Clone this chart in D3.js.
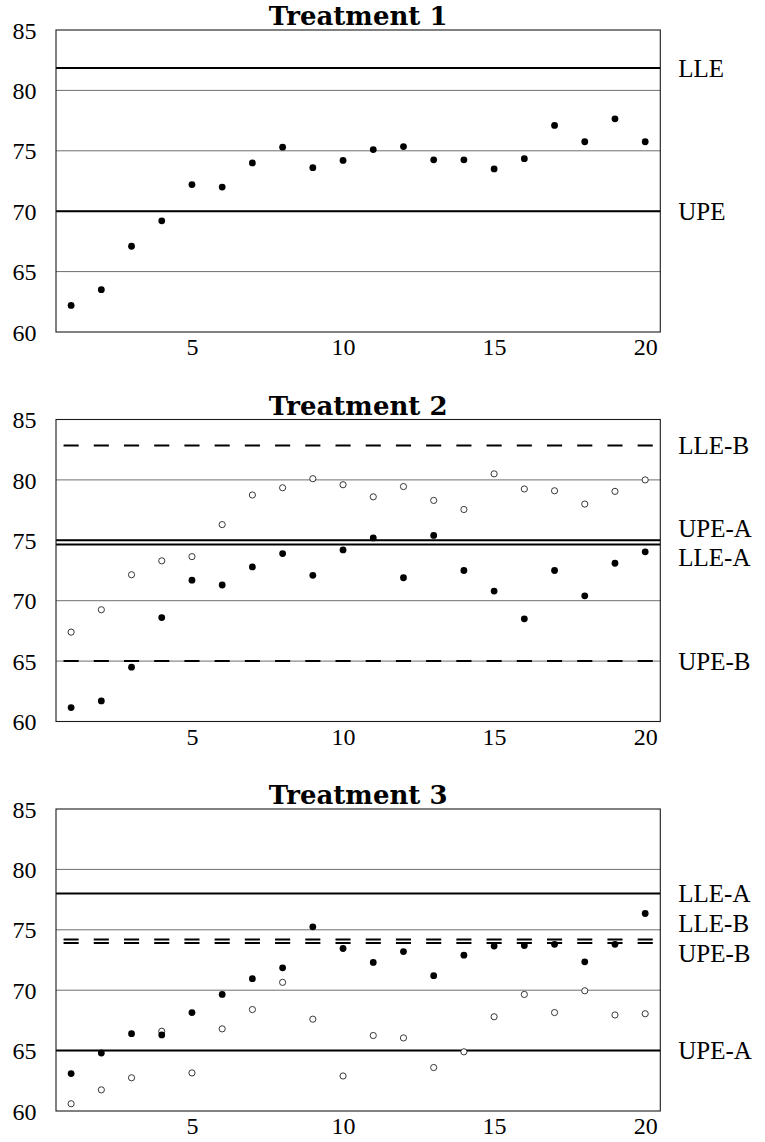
<!DOCTYPE html>
<html>
<head>
<meta charset="utf-8">
<script src="https://cdn.jsdelivr.net/npm/d3@7"></script>
<style>
  html, body { margin: 0; padding: 0; background: #fff; }
  svg { display: block; }
</style>
</head>
<body>
<script>
// ---------------- data ----------------
const xValues = [1,2,3,4,5,6,7,8,9,10,11,12,13,14,15,16,17,18,19,20];
const xTicks = [5, 10, 15, 20];
const yTicks = [60, 65, 70, 75, 80, 85];
const yDomain = [60, 85];

const panelTitles = ["Treatment 1", "Treatment 2", "Treatment 3"];

const t1Filled = [62.2,63.5,67.1,69.2,72.2,72.0,74.0,75.3,73.6,74.2,75.1,75.35,74.25,74.25,73.5,74.35,77.1,75.75,77.65,75.75];
const t1Open = [];

const t2Filled = [61.15,61.7,64.5,68.6,71.7,71.3,72.8,73.9,72.1,74.2,75.2,71.9,75.4,72.5,70.8,68.5,72.5,70.4,73.1,74.05];
const t2Open = [67.4,69.25,72.15,73.3,73.65,76.3,78.75,79.35,80.1,79.6,78.6,79.45,78.3,77.55,80.5,79.25,79.1,78.0,79.05,80.0];

const t3Filled = [63.1,64.8,66.4,66.3,68.15,69.65,70.95,71.85,75.25,73.45,72.3,73.2,71.2,72.9,73.65,73.7,73.8,72.35,73.8,76.35];
const t3Open = [60.6,61.75,62.75,66.6,63.15,66.8,68.4,70.65,67.6,62.9,66.25,66.05,63.6,64.9,67.8,69.65,68.15,69.95,67.95,68.05];

// reference lines: names, values, dashed flags
const t1LineNames = ["LLE", "UPE"];
const t1LineValues = [81.85, 70];
const t1LineDashed = [false, false];

const t2LineNames = ["LLE-B", "UPE-A", "LLE-A", "UPE-B"];
const t2LineValues = [82.85, 75, 74.65, 65];
const t2LineDashed = [true, false, false, true];

const t3LineNames = ["LLE-A", "LLE-B", "UPE-B", "UPE-A"];
const t3LineValues = [78, 74.2, 73.9, 65];
const t3LineDashed = [false, true, true, false];

// ---------------- layout ----------------
const W = 765, H = 1142;
const plotLeft = 56, plotRight = 660.3, plotHeight = 302;
const panelTops = [30, 419.5, 809];
// label nudges to keep close labels apart (px)
const labelNudge = [
  {},
  {"UPE-A": -12, "LLE-A": 13},
  {"LLE-B": -16, "UPE-B": 10}
];

const panels = [
  {title: panelTitles[0], filled: t1Filled, open: t1Open, names: t1LineNames, values: t1LineValues, dashed: t1LineDashed},
  {title: panelTitles[1], filled: t2Filled, open: t2Open, names: t2LineNames, values: t2LineValues, dashed: t2LineDashed},
  {title: panelTitles[2], filled: t3Filled, open: t3Open, names: t3LineNames, values: t3LineValues, dashed: t3LineDashed}
];

const serif = "Liberation Serif";

const svg = d3.select("body").append("svg")
  .attr("width", W).attr("height", H)
  .attr("viewBox", `0 0 ${W} ${H}`)
  .style("font-family", serif);

const x = d3.scaleLinear().domain([0.5, 20.5]).range([plotLeft, plotRight]);
const unit = x(2) - x(1);

panels.forEach((p, i) => {
  const top = panelTops[i];
  const y = d3.scaleLinear().domain(yDomain).range([top + plotHeight, top]);
  const g = svg.append("g");

  // grid lines
  g.selectAll("line.grid").data(yTicks.filter(t => t > yDomain[0] && t < yDomain[1]))
    .enter().append("line")
    .attr("x1", plotLeft).attr("x2", plotRight)
    .attr("y1", d => y(d)).attr("y2", d => y(d))
    .attr("stroke", "#6e6e6e").attr("stroke-width", 1);

  // y axis tick labels
  const yAxis = d3.axisLeft(y).tickValues(yTicks).tickSize(0).tickPadding(19.5).tickFormat(d3.format("d"));
  const ya = g.append("g").attr("transform", `translate(${plotLeft},0)`).call(yAxis)
    .attr("font-family", serif).attr("font-size", 24);
  ya.select(".domain").remove();
  ya.selectAll("text").style("font-family", serif).attr("font-size", 24).attr("fill", "#000")
    .attr("dy", "0.34em");

  // x axis tick labels
  const xAxis = d3.axisBottom(x).tickValues(xTicks).tickSize(0).tickPadding(6).tickFormat(d3.format("d"));
  const xa = g.append("g").attr("transform", `translate(0,${top + plotHeight})`).call(xAxis)
    .attr("font-family", serif).attr("font-size", 24);
  xa.select(".domain").remove();
  xa.selectAll("text").style("font-family", serif).attr("font-size", 24).attr("fill", "#000")
    .attr("dy", "0.72em");

  // reference lines
  const refs = p.names.map((n, k) => ({name: n, value: p.values[k], dashed: p.dashed[k]}));
  g.selectAll("line.ref").data(refs).enter().append("line")
    .attr("x1", plotLeft).attr("x2", plotRight)
    .attr("y1", d => y(d.value)).attr("y2", d => y(d.value))
    .attr("stroke", "#000").attr("stroke-width", 2)
    .attr("stroke-dasharray", d => d.dashed ? `${unit/2} ${unit/2}` : null)
    .attr("stroke-dashoffset", d => d.dashed ? unit * 0.75 : null);

  // labels at right
  g.selectAll("text.ref").data(refs).enter().append("text")
    .attr("x", plotRight + 18)
    .attr("y", d => y(d.value) + (labelNudge[i][d.name] || 0))
    .attr("dy", "0.34em")
    .style("font-family", serif).attr("font-size", 25).attr("fill", "#000")
    .text(d => d.name);

  // frame
  g.append("rect")
    .attr("x", plotLeft).attr("y", top)
    .attr("width", plotRight - plotLeft).attr("height", plotHeight)
    .attr("fill", "none").attr("stroke", "#1a1a1a").attr("stroke-width", 1.1);

  // open points
  g.selectAll("circle.open").data(p.open.map((v, k) => [xValues[k], v])).enter().append("circle")
    .attr("cx", d => x(d[0])).attr("cy", d => y(d[1])).attr("r", 3.1)
    .attr("fill", "#fff").attr("stroke", "#222").attr("stroke-width", 0.9);

  // filled points
  g.selectAll("circle.filled").data(p.filled.map((v, k) => [xValues[k], v])).enter().append("circle")
    .attr("cx", d => x(d[0])).attr("cy", d => y(d[1])).attr("r", 3.4)
    .attr("fill", "#000");

  // title
  g.append("text")
    .attr("x", (plotLeft + plotRight) / 2).attr("y", top - 5)
    .attr("text-anchor", "middle")
    .style("font-family", "DejaVu Serif").attr("font-weight", "bold").attr("font-size", 26)
    .attr("fill", "#000")
    .text(p.title);
});
</script>
</body>
</html>
